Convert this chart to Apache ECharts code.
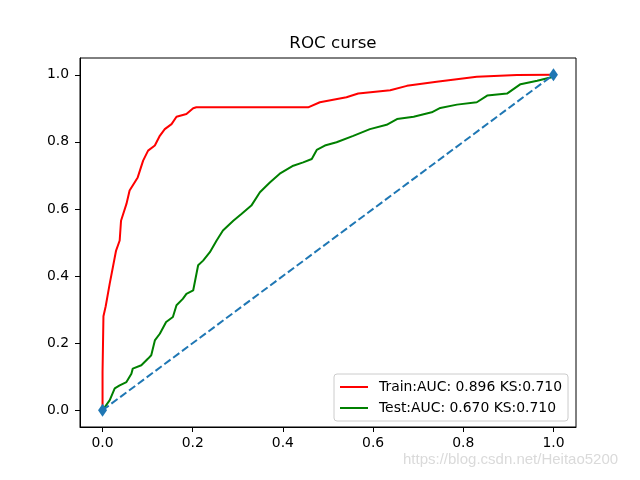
<!DOCTYPE html>
<html>
<head>
<meta charset="utf-8">
<script src="https://cdn.jsdelivr.net/npm/echarts@6/dist/echarts.min.js"></script>
<style>html,body{margin:0;padding:0;background:#fff}#c{width:640px;height:480px}</style>
</head>
<body>
<div id="c"></div>
<script>
const tickValues = [0, 0.2, 0.4, 0.6, 0.8, 1.0];
const trainFpr = [0, 0, 0.002, 0.007, 0.016, 0.023, 0.030, 0.038, 0.041, 0.053, 0.060, 0.078, 0.090, 0.101, 0.116, 0.127, 0.138, 0.153, 0.164, 0.186, 0.201, 0.208, 0.456, 0.482, 0.541, 0.567, 0.638, 0.675, 0.741, 0.830, 0.919, 1.0];
const trainTpr = [0, 0.114, 0.28, 0.31, 0.378, 0.427, 0.476, 0.506, 0.565, 0.615, 0.655, 0.694, 0.744, 0.774, 0.789, 0.818, 0.838, 0.853, 0.875, 0.883, 0.900, 0.903, 0.903, 0.918, 0.933, 0.944, 0.954, 0.967, 0.979, 0.994, 0.999, 1.0];
const testFpr = [0, 0.016, 0.027, 0.038, 0.053, 0.064, 0.067, 0.086, 0.101, 0.108, 0.116, 0.127, 0.141, 0.156, 0.164, 0.178, 0.186, 0.201, 0.212, 0.223, 0.238, 0.253, 0.267, 0.290, 0.308, 0.330, 0.349, 0.371, 0.393, 0.423, 0.445, 0.464, 0.475, 0.493, 0.519, 0.556, 0.593, 0.630, 0.653, 0.690, 0.730, 0.749, 0.786, 0.830, 0.853, 0.897, 0.927, 0.964, 1.0, 1.0];
const testTpr = [0, 0.030, 0.065, 0.074, 0.084, 0.109, 0.124, 0.134, 0.154, 0.164, 0.208, 0.228, 0.263, 0.278, 0.313, 0.332, 0.347, 0.357, 0.432, 0.446, 0.471, 0.506, 0.536, 0.565, 0.585, 0.610, 0.650, 0.679, 0.705, 0.729, 0.739, 0.749, 0.776, 0.789, 0.799, 0.818, 0.838, 0.851, 0.868, 0.875, 0.888, 0.901, 0.911, 0.918, 0.938, 0.944, 0.972, 0.982, 0.994, 1.0];
const diagX = [0, 1];
const diagY = [0, 1];
const trainName = 'Train:AUC: 0.896 KS:0.710';
const testName = 'Test:AUC: 0.670 KS:0.710';
const titleText = 'ROC curse';
const watermark = 'https://blog.csdn.net/Heitao5200';

const zip = (a, b) => a.map((v, i) => [v, b[i]]);
const font = 'DejaVu Sans';
const chart = echarts.init(document.getElementById('c'), null, {renderer: 'canvas'});
const axisCommon = {
  type: 'value', min: -0.05, max: 1.05,
  splitLine: {show: false},
  axisLine: {show: true, onZero: false, lineStyle: {color: '#000', width: 1}},
  axisTick: {show: true, length: 5, inside: false, customValues: tickValues, lineStyle: {color: '#000'}},
  axisLabel: {customValues: tickValues, color: '#000', fontFamily: font, fontSize: 13.9, formatter: v => v.toFixed(1)}
};
chart.setOption({
  animation: false,
  backgroundColor: '#fff',
  title: {text: titleText, left: 328, top: 30, textAlign: 'center',
    textStyle: {fontFamily: font, fontSize: 16.7, fontWeight: 'normal', color: '#000'}},
  grid: {left: 80, right: 64, top: 58, bottom: 53, show: true, borderColor: '#000', borderWidth: 1, containLabel: false},
  xAxis: Object.assign({}, axisCommon, {axisLabel: Object.assign({}, axisCommon.axisLabel, {margin: 9})}),
  yAxis: Object.assign({}, axisCommon, {axisLabel: Object.assign({}, axisCommon.axisLabel, {margin: 11})}),
  legend: {
    data: [trainName, testName], orient: 'vertical', left: 334, top: 374,
    padding: [6, 6, 6, 5], itemGap: 7, itemWidth: 28, itemHeight: 14,
    itemStyle: {opacity: 0},
    borderColor: '#cccccc', borderWidth: 1, borderRadius: 3, backgroundColor: 'rgba(255,255,255,0.8)',
    textStyle: {fontFamily: font, fontSize: 13.9, color: '#000', padding: [0, 0, 0, 6]}
  },
  graphic: [{type: 'text', left: 403, top: 452, style: {text: watermark, fontFamily: 'Liberation Sans', fontSize: 15, fill: '#dadada'}}],
  series: [
    {name: trainName, type: 'line', data: zip(trainFpr, trainTpr), symbol: 'none', lineStyle: {color: '#ff0000', width: 2}, itemStyle: {color: '#ff0000'}, z: 2},
    {name: testName, type: 'line', data: zip(testFpr, testTpr), symbol: 'none', lineStyle: {color: '#008000', width: 2}, itemStyle: {color: '#008000'}, z: 3},
    {name: 'diag', type: 'line', data: zip(diagX, diagY), symbol: 'diamond', symbolSize: [9, 13], lineStyle: {color: '#1f77b4', width: 2, type: [7.7, 3.3]}, itemStyle: {color: '#1f77b4'}, z: 4}
  ]
});
</script>
</body>
</html>
